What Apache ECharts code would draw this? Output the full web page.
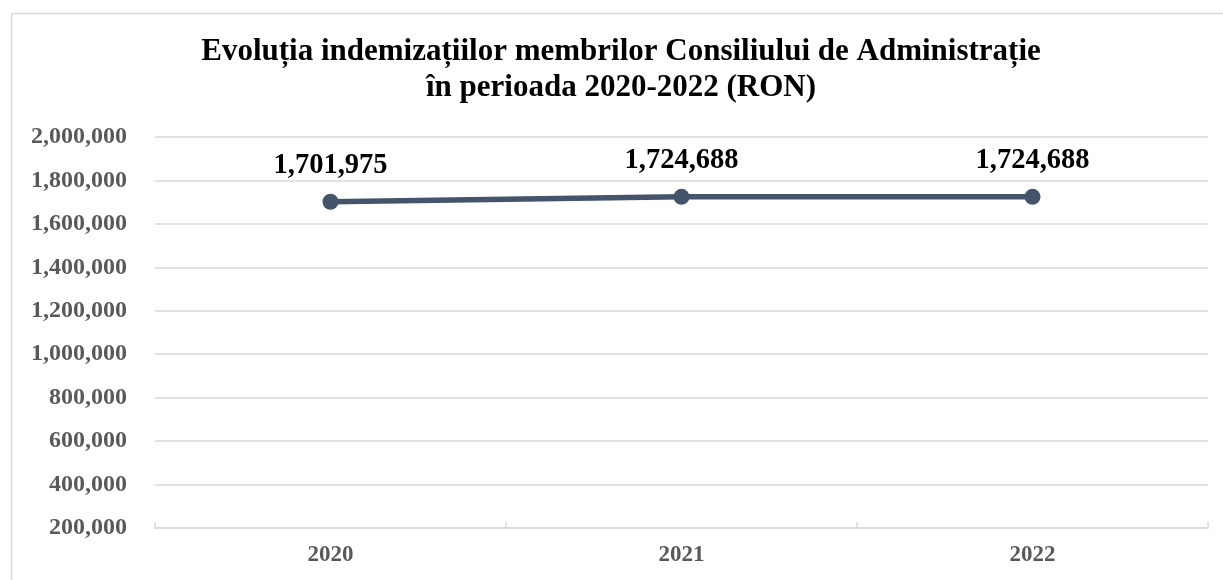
<!DOCTYPE html>
<html>
<head>
<meta charset="utf-8">
<script src="https://cdn.jsdelivr.net/npm/echarts@6/dist/echarts.min.js"></script>
<style>
html,body{margin:0;padding:0;background:#fff;}
#chart{width:1223px;height:580px;}
</style>
</head>
<body>
<div id="chart"></div>
<script>
const titleText = "Evoluția indemizațiilor membrilor Consiliului de Administrație\nîn perioada 2020-2022 (RON)";
const categories = ["2020", "2021", "2022"];
const values = [1701975, 1724688, 1724688];
const yMin = 200000, yMax = 2000000, yInterval = 200000;

const serif = "'Liberation Serif', 'Times New Roman', serif";
const chart = echarts.init(document.getElementById('chart'));
const fmt = v => v.toLocaleString('en-US');
chart.setOption({
  animation: false,
  backgroundColor: '#ffffff',
  graphic: [{
    type: 'rect', left: 9, top: 11,
    shape: {width: 1300, height: 700},
    style: {fill: 'none', stroke: '#d9d9d9', lineWidth: 1.5},
    silent: true
  }, {
    type: 'text', x: 621, y: 34,
    style: {
      text: titleText, align: 'center', verticalAlign: 'top',
      font: "bold 31px 'Liberation Serif', 'Times New Roman', serif",
      fill: '#000', lineHeight: 36
    },
    silent: true
  }],
  grid: {left: 155, right: 15, top: 137, bottom: 52},
  xAxis: {
    type: 'category', data: categories, boundaryGap: true,
    axisLine: {lineStyle: {color: '#d9d9d9', width: 1.5}},
    axisTick: {show: true, inside: true, length: 6, lineStyle: {color: '#d9d9d9', width: 1.5}},
    axisLabel: {fontFamily: serif, fontWeight: 'bold', fontSize: 23, color: '#595959', margin: 16}
  },
  yAxis: {
    type: 'value', min: yMin, max: yMax, interval: yInterval,
    axisLine: {show: false}, axisTick: {show: false},
    splitLine: {lineStyle: {color: '#d9d9d9', width: 1.5}},
    axisLabel: {fontFamily: serif, fontWeight: 'bold', fontSize: 24, color: '#595959', margin: 28, formatter: fmt}
  },
  series: [{
    type: 'line', data: values,
    lineStyle: {color: '#44546a', width: 5.5},
    itemStyle: {color: '#44546a'},
    symbol: 'circle', symbolSize: 16,
    label: {
      show: true, position: 'top', distance: 14,
      fontFamily: serif, fontWeight: 'bold', fontSize: 28.5, color: '#000',
      formatter: p => fmt(p.value)
    }
  }]
});
</script>
</body>
</html>
